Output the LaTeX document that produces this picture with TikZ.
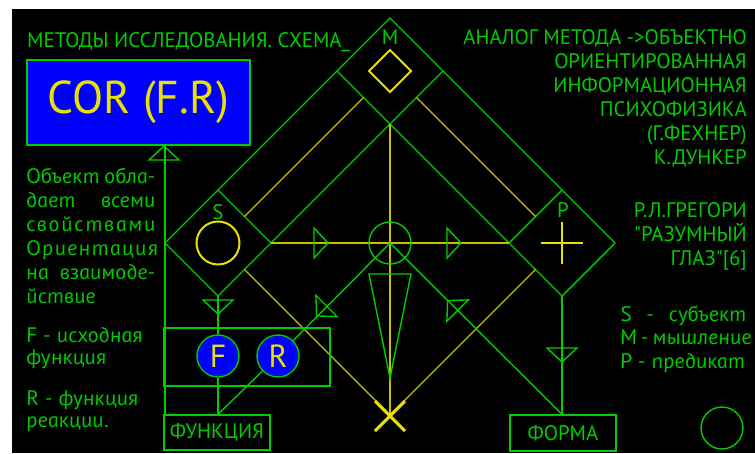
\documentclass[tikz,border=0pt]{standalone}
\usepackage{fontspec}
\setmainfont{PT Sans}[Ligatures=TeXOff]
\newfontfamily\capsfam{PT Sans}[Ligatures=TeXOff, FakeStretch=0.99]
\newfontfamily\lowfam{PT Sans}[ItalicFeatures={FakeSlant=-0.2, FakeStretch=1.06}]
\usetikzlibrary{calc}

\definecolor{acgreen}{RGB}{0,205,0}
\definecolor{acyellow}{RGB}{235,225,0}
\definecolor{acblue}{RGB}{0,0,255}

\tikzset{
  gline/.style={color=acgreen, line width=1.4pt},
  yline/.style={color=acyellow!85!black, line width=1.2pt},
  ythick/.style={color=acyellow, line width=2pt},
  caps/.style={text=acgreen, inner sep=0pt, font=\capsfam\fontsize{21}{24}\selectfont},
  lower/.style={text=acgreen, inner sep=0pt, font=\lowfam\itshape\fontsize{21}{24}\selectfont},
  box/.style={draw=acgreen, line width=1.4pt, inner sep=0pt},
  fr/.style={circle, draw=acgreen, fill=acblue, line width=1.4pt, minimum size=42pt,
    inner sep=0pt, text=acyellow, font=\capsfam\fontsize{32}{36}\selectfont},
  arr/.pic={\draw [gline] (0,-15) -- (14,0) -- (0,15) -- cycle;}
}

\begin{document}
\begin{tikzpicture}[x=1pt, y=-1pt]
\useasboundingbox (0,0) rectangle (755,453);
\fill [black] (12,9) rectangle (755,453);

% corners of the three squares
\coordinate (Mt) at (390,18);
\coordinate (Ml) at (337,71);
\coordinate (Mr) at (443,71);
\coordinate (Mb) at (390,124);
\coordinate (St) at (218,190);
\coordinate (Sl) at (165,243);
\coordinate (Sr) at (271,243);
\coordinate (Sb) at (218,296);
\coordinate (Pt) at (562,190);
\coordinate (Pl) at (509,243);
\coordinate (Pr) at (615,243);
\coordinate (Pb) at (562,296);
\coordinate (M) at (390,71);
\coordinate (S) at (218,243);
\coordinate (P) at (562,243);
\coordinate (C) at (390,243);
\coordinate (X) at (390,415);

\draw [gline] (Sl) -- (Mt) -- (Pr);
\draw [gline] (Ml) -- (Mb) -- (Mr);
\draw [gline] (St) -- (Sr) -- (Mb) -- (Pl) -- (Pt);
\draw [gline] (Sl) -- (Sb) -- (Sr);
\draw [gline] (Pl) -- (Pb) -- (Pr);

\draw [yline] ($(Ml)!0.5!(Mb)$) -- ($(St)!0.5!(Sr)$);
\draw [yline] ($(Mr)!0.5!(Mb)$) -- ($(Pt)!0.5!(Pl)$);
\draw [yline] ($(Sr)!0.5!(Sb)$) -- (X);
\draw [yline] ($(Pl)!0.5!(Pb)$) -- (X);
\draw [yline] (Mb) -- (X);
\draw [yline] (Sr) -- (Pl);

\draw [ythick, line width=3pt] ($(X)+(-15,-14)$) -- ($(X)+(15,16)$);
\draw [ythick, line width=3pt] ($(X)+(15,-14)$) -- ($(X)+(-15,16)$);

\draw [ythick] ($(M)+(0,-21)$) -- ++(21,21) -- ++(-21,21) -- ++(-21,-21) -- cycle;
\draw [ythick] (S) circle [radius=21.5pt];
\draw [ythick, line width=2.5pt] ($(P)+(-21,0)$) -- ($(P)+(21,0)$);
\draw [ythick, line width=2.5pt] ($(P)+(0,-21)$) -- ($(P)+(0,21)$);

\node [caps] (mlab) at (390,37) {M};
\node [caps] (slab) at (218,212) {S};
\node [caps] (plab) at (563,210) {P};

\draw [gline] (C) circle [radius=21pt];
\draw [gline] (369,274) -- (411,274) -- (390,378) -- cycle;

% boxes
\node [box, fill=acblue, minimum width=223pt, minimum height=85pt, text=acyellow,
  font=\capsfam\fontsize{46}{50}\selectfont] (cor) at (138.5,102.5) {COR (F.R)};
\node [box, minimum width=166pt, minimum height=58pt] (frbox) at (247,357) {};
\node [box, caps, minimum width=106pt, minimum height=35pt] (func) at (217,432.5) {ФУНКЦИЯ};
\node [box, caps, minimum width=106pt, minimum height=36pt] (forma) at (563,433) {ФОРМА};
\node [fr] (F) at (218,356) {F};
\node [fr] (R) at (278,356) {R};
\draw [gline] (722,428) circle [radius=21pt];

\coordinate (fu) at (Sb |- func.north);
\coordinate (fo) at (Pb |- forma.north);
\draw [gline] (Sl |- cor.south) -- (Sl |- func.north);
\draw [gline] (Sb) -- (F);
\draw [gline] (F) -- (fu);
\draw [gline] (fu) -- (R);
\draw [gline] (R) -- (C) -- (fo);
\draw [gline] (Pb) -- (fo);

\pic [rotate=90] at (164,160) {arr};
\pic [rotate=-90] at (218,300) {arr};
\pic [rotate=-90] at (562,348) {arr};
\pic at (314,243) {arr};
\pic at (447,243) {arr};
\pic [rotate=-135] at (326.5,306) {arr};
\pic [rotate=135] at (457.5,310.5) {arr};

% texts
\node [caps, anchor=base west] (title) at (27,47) {МЕТОДЫ ИССЛЕДОВАНИЯ. СХЕМА\_};

\node [caps, anchor=base east] (r1) at (747,44) {АНАЛОГ МЕТОДА ->ОБЪЕКТНО};
\node [caps, anchor=base east] (r2) at (747,68) {ОРИЕНТИРОВАННАЯ};
\node [caps, anchor=base east] (r3) at (747,92) {ИНФОРМАЦИОННАЯ};
\node [caps, anchor=base east] (r4) at (747,116) {ПСИХОФИЗИКА};
\node [caps, anchor=base east] (r5) at (747,140) {(Г.ФЕХНЕР)};
\node [caps, anchor=base east] (r6) at (747,164) {К.ДУНКЕР};
\node [caps, anchor=base east] (r7) at (747,217) {Р.Л.ГРЕГОРИ};
\node [caps, anchor=base east] (r8) at (747,241) {"РАЗУМНЫЙ};
\node [caps, anchor=base east] (r9) at (747,265) {ГЛАЗ"[6]};

\node [lower, anchor=base west] (k1) at (621,321) {\makebox[126pt][s]{S \hfill- \hfill субъект}};
\node [lower, anchor=base west] (k2) at (621,344) {\makebox[126pt][s]{M - мышление}};
\node [lower, anchor=base west] (k3) at (621,368) {P - предикат};

\node [lower, anchor=base west] (l1) at (27,183) {\makebox[129pt][s]{Объект обла-}};
\node [lower, anchor=base west] (l2) at (27,207) {\makebox[129pt][s]{дает всеми}};
\node [lower, anchor=base west] (l3) at (27,231) {\addfontfeatures{LetterSpace=8}свойствами};
\node [lower, anchor=base west] (l4) at (27,255) {\addfontfeatures{LetterSpace=6}Ориентация};
\node [lower, anchor=base west] (l5) at (27,279) {\makebox[129pt][s]{на взаимоде-}};
\node [lower, anchor=base west] (l6) at (27,303) {йствие};

\node [lower, anchor=base west] (f1) at (27,342) {F - исходная};
\node [lower, anchor=base west] (f2) at (27,364) {функция};
\node [lower, anchor=base west] (g1) at (27,405) {R - функция};
\node [lower, anchor=base west] (g2) at (27,427) {реакции.};

\end{tikzpicture}
\end{document}
